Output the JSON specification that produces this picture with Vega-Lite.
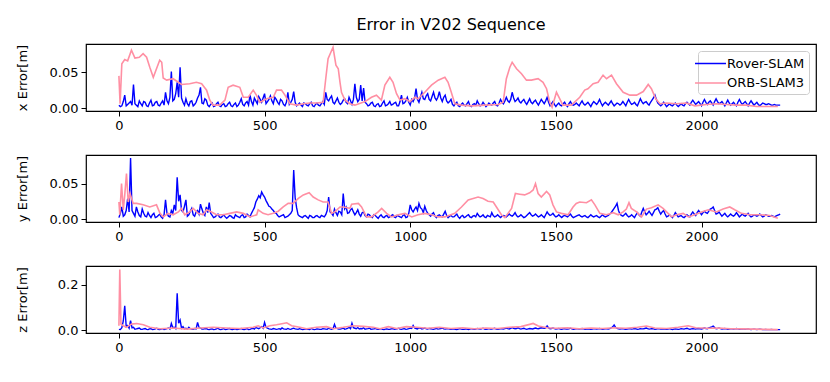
{
"$schema": "https://vega.github.io/schema/vega-lite/v6.json",
"padding": {"left": 15, "top": 17, "right": 10, "bottom": 10},
"title": {"text": "Error in V202 Sequence", "fontSize": 16, "font": "DejaVu Sans", "fontWeight": "normal", "color": "#000", "anchor": "middle", "frame": "group", "offset": 10},
"config": {
  "font": "DejaVu Sans",
  "view": {"stroke": "#000", "strokeWidth": 1.2},
  "axis": {"grid": false, "domain": false, "tickColor": "#000", "tickSize": 5, "tickWidth": 1, "labelFontSize": 13, "labelColor": "#000", "labelFont": "DejaVu Sans", "titleFontSize": 13, "titleFontWeight": "normal", "titleColor": "#000", "titleFont": "DejaVu Sans", "labelPadding": 3},
  "axisY": {"titleX": -57}
},
"bounds": "flush",
"spacing": 44,
"resolve": {"scale": {"color": "independent"}, "legend": {"color": "independent"}},
"datasets": {
"r": [
{"t":0,"x":0.004,"y":0.002,"z":0.003},{"t":10,"x":0.003,"y":0.017,"z":0.010},{"t":20,"x":0.018,"y":0.006,"z":0.107},{"t":30,"x":0.005,"y":0.029,"z":0.020},{"t":40,"x":0.009,"y":0.086,"z":0.041},{"t":50,"x":0.033,"y":0.008,"z":0.012},{"t":60,"x":0.004,"y":0.017,"z":0.005},{"t":70,"x":0.010,"y":0.005,"z":0.009},{"t":80,"x":0.003,"y":0.014,"z":0.003},{"t":90,"x":0.008,"y":0.004,"z":0.007},
{"t":100,"x":0.002,"y":0.009,"z":0.002},{"t":110,"x":0.011,"y":0.002,"z":0.006},{"t":120,"x":0.004,"y":0.008,"z":0.003},{"t":130,"x":0.009,"y":0.003,"z":0.008},{"t":140,"x":0.003,"y":0.007,"z":0.002},{"t":150,"x":0.010,"y":0.001,"z":0.006},{"t":160,"x":0.022,"y":0.027,"z":0.004},{"t":170,"x":0.006,"y":0.004,"z":0.009},{"t":180,"x":0.051,"y":0.012,"z":0.029},{"t":190,"x":0.012,"y":0.020,"z":0.012},
{"t":200,"x":0.036,"y":0.059,"z":0.162},{"t":210,"x":0.057,"y":0.034,"z":0.044},{"t":220,"x":0.008,"y":0.010,"z":0.015},{"t":230,"x":0.013,"y":0.027,"z":0.008},{"t":240,"x":0.003,"y":0.006,"z":0.012},{"t":250,"x":0.010,"y":0.015,"z":0.004},{"t":260,"x":0.005,"y":0.004,"z":0.007},{"t":270,"x":0.014,"y":0.012,"z":0.034},{"t":280,"x":0.029,"y":0.021,"z":0.009},{"t":290,"x":0.006,"y":0.008,"z":0.004},
{"t":300,"x":0.011,"y":0.017,"z":0.007},{"t":310,"x":0.002,"y":0.023,"z":0.002},{"t":320,"x":0.007,"y":0.005,"z":0.005},{"t":330,"x":0.003,"y":0.003,"z":0.003},{"t":340,"x":0.008,"y":0.007,"z":0.008},{"t":350,"x":0.002,"y":0.002,"z":0.002},{"t":360,"x":0.006,"y":0.006,"z":0.006},{"t":370,"x":0.003,"y":0.001,"z":0.003},{"t":380,"x":0.008,"y":0.005,"z":0.007},{"t":390,"x":0.002,"y":0.002,"z":0.002},
{"t":400,"x":0.007,"y":0.006,"z":0.005},{"t":410,"x":0.004,"y":0.003,"z":0.003},{"t":420,"x":0.013,"y":0.005,"z":0.007},{"t":430,"x":0.003,"y":0.002,"z":0.002},{"t":440,"x":0.009,"y":0.007,"z":0.006},{"t":450,"x":0.018,"y":0.003,"z":0.003},{"t":460,"x":0.004,"y":0.012,"z":0.008},{"t":470,"x":0.010,"y":0.024,"z":0.012},{"t":480,"x":0.016,"y":0.033,"z":0.006},{"t":490,"x":0.008,"y":0.038,"z":0.015},
{"t":500,"x":0.020,"y":0.031,"z":0.034},{"t":510,"x":0.009,"y":0.022,"z":0.008},{"t":520,"x":0.017,"y":0.017,"z":0.004},{"t":530,"x":0.006,"y":0.012,"z":0.007},{"t":540,"x":0.012,"y":0.008,"z":0.003},{"t":550,"x":0.005,"y":0.003,"z":0.006},{"t":560,"x":0.010,"y":0.005,"z":0.009},{"t":570,"x":0.003,"y":0.002,"z":0.004},{"t":580,"x":0.022,"y":0.004,"z":0.007},{"t":590,"x":0.008,"y":0.008,"z":0.003},
{"t":600,"x":0.023,"y":0.069,"z":0.008},{"t":610,"x":0.003,"y":0.016,"z":0.004},{"t":620,"x":0.007,"y":0.004,"z":0.006},{"t":630,"x":0.002,"y":0.002,"z":0.002},{"t":640,"x":0.006,"y":0.005,"z":0.005},{"t":650,"x":0.003,"y":0.001,"z":0.003},{"t":660,"x":0.008,"y":0.004,"z":0.007},{"t":670,"x":0.002,"y":0.002,"z":0.002},{"t":680,"x":0.007,"y":0.005,"z":0.005},{"t":690,"x":0.003,"y":0.002,"z":0.003},
{"t":700,"x":0.009,"y":0.004,"z":0.006},{"t":710,"x":0.022,"y":0.006,"z":0.004},{"t":720,"x":0.010,"y":0.031,"z":0.008},{"t":730,"x":0.017,"y":0.008,"z":0.003},{"t":740,"x":0.006,"y":0.014,"z":0.025},{"t":750,"x":0.014,"y":0.005,"z":0.006},{"t":760,"x":0.005,"y":0.010,"z":0.004},{"t":770,"x":0.011,"y":0.036,"z":0.009},{"t":780,"x":0.008,"y":0.017,"z":0.005},{"t":790,"x":0.015,"y":0.009,"z":0.012},
{"t":800,"x":0.005,"y":0.015,"z":0.030},{"t":810,"x":0.034,"y":0.006,"z":0.008},{"t":820,"x":0.009,"y":0.013,"z":0.011},{"t":830,"x":0.032,"y":0.004,"z":0.007},{"t":840,"x":0.028,"y":0.010,"z":0.010},{"t":850,"x":0.006,"y":0.003,"z":0.005},{"t":860,"x":0.004,"y":0.006,"z":0.009},{"t":870,"x":0.008,"y":0.002,"z":0.004},{"t":880,"x":0.002,"y":0.005,"z":0.007},{"t":890,"x":0.006,"y":0.001,"z":0.003},
{"t":900,"x":0.003,"y":0.006,"z":0.006},{"t":910,"x":0.010,"y":0.002,"z":0.002},{"t":920,"x":0.004,"y":0.005,"z":0.005},{"t":930,"x":0.009,"y":0.003,"z":0.003},{"t":940,"x":0.005,"y":0.006,"z":0.007},{"t":950,"x":0.008,"y":0.002,"z":0.004},{"t":960,"x":0.003,"y":0.004,"z":0.008},{"t":970,"x":0.018,"y":0.002,"z":0.003},{"t":980,"x":0.007,"y":0.006,"z":0.006},{"t":990,"x":0.015,"y":0.003,"z":0.004},
{"t":1000,"x":0.004,"y":0.020,"z":0.009},{"t":1010,"x":0.009,"y":0.010,"z":0.020},{"t":1020,"x":0.027,"y":0.017,"z":0.007},{"t":1030,"x":0.008,"y":0.022,"z":0.010},{"t":1040,"x":0.022,"y":0.014,"z":0.005},{"t":1050,"x":0.012,"y":0.018,"z":0.009},{"t":1060,"x":0.020,"y":0.008,"z":0.004},{"t":1070,"x":0.010,"y":0.004,"z":0.006},{"t":1080,"x":0.022,"y":0.009,"z":0.003},{"t":1090,"x":0.011,"y":0.002,"z":0.007},
{"t":1100,"x":0.023,"y":0.006,"z":0.005},{"t":1110,"x":0.009,"y":0.003,"z":0.009},{"t":1120,"x":0.018,"y":0.011,"z":0.004},{"t":1130,"x":0.007,"y":0.002,"z":0.006},{"t":1140,"x":0.012,"y":0.005,"z":0.003},{"t":1150,"x":0.003,"y":0.003,"z":0.005},{"t":1160,"x":0.008,"y":0.007,"z":0.002},{"t":1170,"x":0.002,"y":0.001,"z":0.006},{"t":1180,"x":0.007,"y":0.005,"z":0.003},{"t":1190,"x":0.003,"y":0.003,"z":0.005},
{"t":1200,"x":0.009,"y":0.006,"z":0.002},{"t":1210,"x":0.002,"y":0.002,"z":0.006},{"t":1220,"x":0.006,"y":0.005,"z":0.003},{"t":1230,"x":0.010,"y":0.008,"z":0.007},{"t":1240,"x":0.003,"y":0.003,"z":0.004},{"t":1250,"x":0.008,"y":0.006,"z":0.008},{"t":1260,"x":0.002,"y":0.002,"z":0.003},{"t":1270,"x":0.007,"y":0.004,"z":0.006},{"t":1280,"x":0.004,"y":0.009,"z":0.004},{"t":1290,"x":0.009,"y":0.003,"z":0.008},
{"t":1300,"x":0.003,"y":0.006,"z":0.003},{"t":1310,"x":0.012,"y":0.002,"z":0.006},{"t":1320,"x":0.006,"y":0.005,"z":0.004},{"t":1330,"x":0.015,"y":0.003,"z":0.009},{"t":1340,"x":0.008,"y":0.007,"z":0.005},{"t":1350,"x":0.022,"y":0.004,"z":0.011},{"t":1360,"x":0.009,"y":0.009,"z":0.006},{"t":1370,"x":0.014,"y":0.003,"z":0.010},{"t":1380,"x":0.007,"y":0.006,"z":0.004},{"t":1390,"x":0.012,"y":0.002,"z":0.008},
{"t":1400,"x":0.005,"y":0.005,"z":0.003},{"t":1410,"x":0.013,"y":0.009,"z":0.007},{"t":1420,"x":0.006,"y":0.004,"z":0.005},{"t":1430,"x":0.011,"y":0.007,"z":0.009},{"t":1440,"x":0.004,"y":0.003,"z":0.006},{"t":1450,"x":0.012,"y":0.006,"z":0.010},{"t":1460,"x":0.006,"y":0.002,"z":0.008},{"t":1470,"x":0.015,"y":0.010,"z":0.018},{"t":1480,"x":0.003,"y":0.005,"z":0.006},{"t":1490,"x":0.009,"y":0.008,"z":0.009},
{"t":1500,"x":0.002,"y":0.003,"z":0.004},{"t":1510,"x":0.007,"y":0.006,"z":0.007},{"t":1520,"x":0.003,"y":0.002,"z":0.003},{"t":1530,"x":0.008,"y":0.005,"z":0.006},{"t":1540,"x":0.002,"y":0.003,"z":0.004},{"t":1550,"x":0.009,"y":0.007,"z":0.008},{"t":1560,"x":0.004,"y":0.002,"z":0.003},{"t":1570,"x":0.007,"y":0.004,"z":0.006},{"t":1580,"x":0.003,"y":0.006,"z":0.004},{"t":1590,"x":0.010,"y":0.003,"z":0.007},
{"t":1600,"x":0.004,"y":0.005,"z":0.003},{"t":1610,"x":0.008,"y":0.002,"z":0.005},{"t":1620,"x":0.002,"y":0.006,"z":0.003},{"t":1630,"x":0.009,"y":0.003,"z":0.006},{"t":1640,"x":0.005,"y":0.005,"z":0.004},{"t":1650,"x":0.012,"y":0.002,"z":0.007},{"t":1660,"x":0.003,"y":0.006,"z":0.003},{"t":1670,"x":0.008,"y":0.003,"z":0.006},{"t":1680,"x":0.004,"y":0.005,"z":0.004},{"t":1690,"x":0.010,"y":0.009,"z":0.009},
{"t":1700,"x":0.003,"y":0.015,"z":0.022},{"t":1710,"x":0.007,"y":0.022,"z":0.007},{"t":1720,"x":0.004,"y":0.007,"z":0.004},{"t":1730,"x":0.009,"y":0.004,"z":0.006},{"t":1740,"x":0.003,"y":0.008,"z":0.003},{"t":1750,"x":0.012,"y":0.003,"z":0.005},{"t":1760,"x":0.005,"y":0.006,"z":0.004},{"t":1770,"x":0.008,"y":0.002,"z":0.007},{"t":1780,"x":0.003,"y":0.009,"z":0.003},{"t":1790,"x":0.013,"y":0.004,"z":0.006},
{"t":1800,"x":0.006,"y":0.015,"z":0.005},{"t":1810,"x":0.009,"y":0.006,"z":0.009},{"t":1820,"x":0.004,"y":0.011,"z":0.004},{"t":1830,"x":0.011,"y":0.005,"z":0.007},{"t":1840,"x":0.018,"y":0.013,"z":0.003},{"t":1850,"x":0.007,"y":0.016,"z":0.006},{"t":1860,"x":0.003,"y":0.007,"z":0.004},{"t":1870,"x":0.008,"y":0.012,"z":0.005},{"t":1880,"x":0.002,"y":0.003,"z":0.003},{"t":1890,"x":0.006,"y":0.006,"z":0.006},
{"t":1900,"x":0.003,"y":0.002,"z":0.002},{"t":1910,"x":0.007,"y":0.009,"z":0.005},{"t":1920,"x":0.002,"y":0.003,"z":0.003},{"t":1930,"x":0.006,"y":0.005,"z":0.006},{"t":1940,"x":0.003,"y":0.002,"z":0.004},{"t":1950,"x":0.008,"y":0.006,"z":0.008},{"t":1960,"x":0.004,"y":0.003,"z":0.003},{"t":1970,"x":0.011,"y":0.010,"z":0.006},{"t":1980,"x":0.005,"y":0.005,"z":0.004},{"t":1990,"x":0.009,"y":0.012,"z":0.007},
{"t":2000,"x":0.003,"y":0.006,"z":0.005},{"t":2010,"x":0.012,"y":0.011,"z":0.009},{"t":2020,"x":0.005,"y":0.008,"z":0.006},{"t":2030,"x":0.010,"y":0.014,"z":0.012},{"t":2040,"x":0.004,"y":0.017,"z":0.017},{"t":2050,"x":0.013,"y":0.007,"z":0.006},{"t":2060,"x":0.006,"y":0.010,"z":0.009},{"t":2070,"x":0.009,"y":0.004,"z":0.004},{"t":2080,"x":0.003,"y":0.008,"z":0.007},{"t":2090,"x":0.011,"y":0.003,"z":0.003},
{"t":2100,"x":0.004,"y":0.007,"z":0.006},{"t":2110,"x":0.008,"y":0.004,"z":0.004},{"t":2120,"x":0.003,"y":0.009,"z":0.007},{"t":2130,"x":0.012,"y":0.003,"z":0.003},{"t":2140,"x":0.005,"y":0.007,"z":0.005},{"t":2150,"x":0.009,"y":0.004,"z":0.003},{"t":2160,"x":0.003,"y":0.008,"z":0.005},{"t":2170,"x":0.010,"y":0.003,"z":0.002},{"t":2180,"x":0.004,"y":0.006,"z":0.004},{"t":2190,"x":0.008,"y":0.004,"z":0.002},
{"t":2200,"x":0.003,"y":0.007,"z":0.004},{"t":2210,"x":0.007,"y":0.003,"z":0.002},{"t":2220,"x":0.005,"y":0.006,"z":0.003},{"t":2230,"x":0.006,"y":0.004,"z":0.002},{"t":2240,"x":0.004,"y":0.005,"z":0.003},{"t":2250,"x":0.005,"y":0.003,"z":0.002},{"t":2260,"x":0.004,"y":0.005,"z":0.002},{"t":2270,"x":0.004,"y":0.007,"z":0.002},
{"t":5,"x":0.002,"y":0.008,"z":0.002},{"t":15,"x":0.009,"y":0.004,"z":0.040},{"t":25,"x":0.003,"y":0.012,"z":0.015},{"t":35,"x":0.007,"y":0.010,"z":0.008},{"t":45,"x":0.004,"y":0.012,"z":0.010},{"t":55,"x":0.006,"y":0.004,"z":0.004},{"t":65,"x":0.002,"y":0.010,"z":0.007},{"t":75,"x":0.006,"y":0.003,"z":0.003},{"t":85,"x":0.009,"y":0.008,"z":0.005},{"t":95,"x":0.003,"y":0.003,"z":0.003},
{"t":105,"x":0.007,"y":0.005,"z":0.005},{"t":115,"x":0.003,"y":0.006,"z":0.002},{"t":125,"x":0.008,"y":0.002,"z":0.005},{"t":135,"x":0.004,"y":0.005,"z":0.003},{"t":145,"x":0.007,"y":0.003,"z":0.004},{"t":155,"x":0.004,"y":0.006,"z":0.002},{"t":165,"x":0.010,"y":0.008,"z":0.006},{"t":175,"x":0.015,"y":0.003,"z":0.004},{"t":185,"x":0.010,"y":0.008,"z":0.010},{"t":195,"x":0.020,"y":0.012,"z":0.006},
{"t":205,"x":0.015,"y":0.025,"z":0.030},{"t":215,"x":0.014,"y":0.012,"z":0.008},{"t":225,"x":0.004,"y":0.018,"z":0.005},{"t":235,"x":0.006,"y":0.004,"z":0.004},{"t":245,"x":0.009,"y":0.011,"z":0.006},{"t":255,"x":0.003,"y":0.006,"z":0.003},{"t":265,"x":0.008,"y":0.010,"z":0.005},{"t":275,"x":0.018,"y":0.007,"z":0.012},{"t":285,"x":0.007,"y":0.014,"z":0.004},{"t":295,"x":0.013,"y":0.005,"z":0.006},
{"t":305,"x":0.004,"y":0.009,"z":0.003},{"t":315,"x":0.005,"y":0.008,"z":0.004},{"t":325,"x":0.002,"y":0.002,"z":0.002},{"t":335,"x":0.006,"y":0.005,"z":0.005},{"t":345,"x":0.003,"y":0.003,"z":0.003},{"t":355,"x":0.005,"y":0.004,"z":0.004},{"t":365,"x":0.002,"y":0.003,"z":0.002},{"t":375,"x":0.006,"y":0.003,"z":0.005},{"t":385,"x":0.003,"y":0.004,"z":0.003},{"t":395,"x":0.005,"y":0.001,"z":0.004},
{"t":405,"x":0.002,"y":0.004,"z":0.002},{"t":415,"x":0.008,"y":0.002,"z":0.005},{"t":425,"x":0.005,"y":0.006,"z":0.003},{"t":435,"x":0.007,"y":0.003,"z":0.004},{"t":445,"x":0.004,"y":0.005,"z":0.002},{"t":455,"x":0.009,"y":0.008,"z":0.006},{"t":465,"x":0.014,"y":0.016,"z":0.004},{"t":475,"x":0.006,"y":0.028,"z":0.008},{"t":485,"x":0.012,"y":0.030,"z":0.010},{"t":495,"x":0.014,"y":0.034,"z":0.008},
{"t":505,"x":0.006,"y":0.026,"z":0.012},{"t":515,"x":0.012,"y":0.018,"z":0.005},{"t":525,"x":0.010,"y":0.014,"z":0.003},{"t":535,"x":0.015,"y":0.009,"z":0.005},{"t":545,"x":0.008,"y":0.005,"z":0.004},{"t":555,"x":0.012,"y":0.004,"z":0.003},{"t":565,"x":0.005,"y":0.006,"z":0.005},{"t":575,"x":0.008,"y":0.003,"z":0.003},{"t":585,"x":0.005,"y":0.006,"z":0.004},{"t":595,"x":0.012,"y":0.012,"z":0.006},
{"t":605,"x":0.008,"y":0.030,"z":0.005},{"t":615,"x":0.005,"y":0.006,"z":0.003},{"t":625,"x":0.004,"y":0.003,"z":0.004},{"t":635,"x":0.007,"y":0.004,"z":0.003},{"t":645,"x":0.004,"y":0.003,"z":0.004},{"t":655,"x":0.006,"y":0.005,"z":0.002},{"t":665,"x":0.003,"y":0.002,"z":0.004},{"t":675,"x":0.005,"y":0.004,"z":0.003},{"t":685,"x":0.004,"y":0.003,"z":0.004},{"t":695,"x":0.006,"y":0.005,"z":0.003},
{"t":705,"x":0.005,"y":0.003,"z":0.005},{"t":715,"x":0.012,"y":0.012,"z":0.003},{"t":725,"x":0.014,"y":0.010,"z":0.005},{"t":735,"x":0.008,"y":0.005,"z":0.006},{"t":745,"x":0.010,"y":0.009,"z":0.008},{"t":755,"x":0.008,"y":0.011,"z":0.004},{"t":765,"x":0.007,"y":0.006,"z":0.006},{"t":775,"x":0.013,"y":0.014,"z":0.004},{"t":785,"x":0.006,"y":0.008,"z":0.007},{"t":795,"x":0.010,"y":0.013,"z":0.006},
{"t":805,"x":0.012,"y":0.010,"z":0.010},{"t":815,"x":0.015,"y":0.009,"z":0.006},{"t":825,"x":0.012,"y":0.007,"z":0.005},{"t":835,"x":0.010,"y":0.009,"z":0.006},{"t":845,"x":0.008,"y":0.005,"z":0.004},{"t":855,"x":0.003,"y":0.007,"z":0.006},{"t":865,"x":0.007,"y":0.003,"z":0.003},{"t":875,"x":0.003,"y":0.006,"z":0.005},{"t":885,"x":0.005,"y":0.003,"z":0.004},{"t":895,"x":0.002,"y":0.004,"z":0.004},
{"t":905,"x":0.007,"y":0.003,"z":0.003},{"t":915,"x":0.003,"y":0.004,"z":0.004},{"t":925,"x":0.006,"y":0.002,"z":0.003},{"t":935,"x":0.004,"y":0.005,"z":0.005},{"t":945,"x":0.007,"y":0.003,"z":0.003},{"t":955,"x":0.003,"y":0.005,"z":0.005},{"t":965,"x":0.009,"y":0.003,"z":0.004},{"t":975,"x":0.006,"y":0.005,"z":0.005},{"t":985,"x":0.010,"y":0.002,"z":0.003},{"t":995,"x":0.008,"y":0.008,"z":0.006},
{"t":1005,"x":0.012,"y":0.013,"z":0.007},{"t":1015,"x":0.014,"y":0.014,"z":0.009},{"t":1025,"x":0.012,"y":0.012,"z":0.005},{"t":1035,"x":0.015,"y":0.016,"z":0.008},{"t":1045,"x":0.013,"y":0.009,"z":0.006},{"t":1055,"x":0.017,"y":0.012,"z":0.005},{"t":1065,"x":0.012,"y":0.006,"z":0.007},{"t":1075,"x":0.016,"y":0.007,"z":0.004},{"t":1085,"x":0.014,"y":0.004,"z":0.005},{"t":1095,"x":0.015,"y":0.005,"z":0.004},
{"t":1105,"x":0.014,"y":0.004,"z":0.007},{"t":1115,"x":0.015,"y":0.007,"z":0.005},{"t":1125,"x":0.010,"y":0.005,"z":0.005},{"t":1135,"x":0.009,"y":0.004,"z":0.004},{"t":1145,"x":0.005,"y":0.003,"z":0.004},{"t":1155,"x":0.006,"y":0.005,"z":0.003},{"t":1165,"x":0.003,"y":0.003,"z":0.004},{"t":1175,"x":0.005,"y":0.004,"z":0.004},{"t":1185,"x":0.004,"y":0.002,"z":0.003},{"t":1195,"x":0.006,"y":0.005,"z":0.004},
{"t":1205,"x":0.003,"y":0.003,"z":0.004},{"t":1215,"x":0.005,"y":0.004,"z":0.004},{"t":1225,"x":0.004,"y":0.003,"z":0.004},{"t":1235,"x":0.006,"y":0.005,"z":0.005},{"t":1245,"x":0.004,"y":0.004,"z":0.005},{"t":1255,"x":0.005,"y":0.003,"z":0.004},{"t":1265,"x":0.004,"y":0.005,"z":0.004},{"t":1275,"x":0.005,"y":0.003,"z":0.004},{"t":1285,"x":0.007,"y":0.005,"z":0.006},{"t":1295,"x":0.004,"y":0.004,"z":0.004},
{"t":1305,"x":0.007,"y":0.004,"z":0.004},{"t":1315,"x":0.008,"y":0.004,"z":0.005},{"t":1325,"x":0.010,"y":0.004,"z":0.006},{"t":1335,"x":0.010,"y":0.005,"z":0.006},{"t":1345,"x":0.012,"y":0.005,"z":0.007},{"t":1355,"x":0.014,"y":0.006,"z":0.008},{"t":1365,"x":0.011,"y":0.005,"z":0.007},{"t":1375,"x":0.009,"y":0.004,"z":0.006},{"t":1385,"x":0.010,"y":0.004,"z":0.006},{"t":1395,"x":0.008,"y":0.003,"z":0.005},
{"t":1405,"x":0.009,"y":0.007,"z":0.005},{"t":1415,"x":0.008,"y":0.006,"z":0.006},{"t":1425,"x":0.009,"y":0.005,"z":0.007},{"t":1435,"x":0.007,"y":0.005,"z":0.007},{"t":1445,"x":0.008,"y":0.004,"z":0.008},{"t":1455,"x":0.009,"y":0.004,"z":0.009},{"t":1465,"x":0.010,"y":0.006,"z":0.010},{"t":1475,"x":0.008,"y":0.007,"z":0.009},{"t":1485,"x":0.006,"y":0.006,"z":0.007},{"t":1495,"x":0.005,"y":0.005,"z":0.006},
{"t":1505,"x":0.005,"y":0.004,"z":0.005},{"t":1515,"x":0.004,"y":0.004,"z":0.004},{"t":1525,"x":0.006,"y":0.004,"z":0.005},{"t":1535,"x":0.004,"y":0.004,"z":0.004},{"t":1545,"x":0.006,"y":0.005,"z":0.005},{"t":1555,"x":0.005,"y":0.004,"z":0.005},{"t":1565,"x":0.005,"y":0.003,"z":0.004},{"t":1575,"x":0.005,"y":0.005,"z":0.005},{"t":1585,"x":0.007,"y":0.004,"z":0.005},{"t":1595,"x":0.006,"y":0.004,"z":0.005},
{"t":1605,"x":0.006,"y":0.003,"z":0.004},{"t":1615,"x":0.005,"y":0.004,"z":0.004},{"t":1625,"x":0.006,"y":0.004,"z":0.004},{"t":1635,"x":0.007,"y":0.004,"z":0.005},{"t":1645,"x":0.008,"y":0.003,"z":0.005},{"t":1655,"x":0.007,"y":0.004,"z":0.005},{"t":1665,"x":0.006,"y":0.004,"z":0.004},{"t":1675,"x":0.006,"y":0.004,"z":0.005},{"t":1685,"x":0.007,"y":0.007,"z":0.006},{"t":1695,"x":0.006,"y":0.012,"z":0.014},
{"t":1705,"x":0.005,"y":0.018,"z":0.012},{"t":1715,"x":0.006,"y":0.012,"z":0.005},{"t":1725,"x":0.006,"y":0.005,"z":0.005},{"t":1735,"x":0.006,"y":0.006,"z":0.004},{"t":1745,"x":0.008,"y":0.005,"z":0.004},{"t":1755,"x":0.008,"y":0.004,"z":0.005},{"t":1765,"x":0.006,"y":0.004,"z":0.005},{"t":1775,"x":0.005,"y":0.006,"z":0.005},{"t":1785,"x":0.008,"y":0.006,"z":0.004},{"t":1795,"x":0.009,"y":0.010,"z":0.005},
{"t":1805,"x":0.008,"y":0.010,"z":0.007},{"t":1815,"x":0.006,"y":0.008,"z":0.006},{"t":1825,"x":0.008,"y":0.008,"z":0.005},{"t":1835,"x":0.014,"y":0.009,"z":0.005},{"t":1845,"x":0.012,"y":0.014,"z":0.004},{"t":1855,"x":0.005,"y":0.011,"z":0.005},{"t":1865,"x":0.005,"y":0.010,"z":0.004},{"t":1875,"x":0.005,"y":0.007,"z":0.004},{"t":1885,"x":0.004,"y":0.004,"z":0.004},{"t":1895,"x":0.004,"y":0.004,"z":0.004},
{"t":1905,"x":0.005,"y":0.005,"z":0.004},{"t":1915,"x":0.004,"y":0.006,"z":0.004},{"t":1925,"x":0.004,"y":0.004,"z":0.004},{"t":1935,"x":0.004,"y":0.003,"z":0.005},{"t":1945,"x":0.006,"y":0.004,"z":0.006},{"t":1955,"x":0.006,"y":0.004,"z":0.005},{"t":1965,"x":0.008,"y":0.007,"z":0.005},{"t":1975,"x":0.008,"y":0.007,"z":0.005},{"t":1985,"x":0.007,"y":0.009,"z":0.006},{"t":1995,"x":0.006,"y":0.009,"z":0.006},
{"t":2005,"x":0.008,"y":0.009,"z":0.007},{"t":2015,"x":0.008,"y":0.009,"z":0.007},{"t":2025,"x":0.008,"y":0.011,"z":0.009},{"t":2035,"x":0.007,"y":0.015,"z":0.014},{"t":2045,"x":0.009,"y":0.012,"z":0.011},{"t":2055,"x":0.009,"y":0.008,"z":0.007},{"t":2065,"x":0.007,"y":0.007,"z":0.006},{"t":2075,"x":0.006,"y":0.006,"z":0.005},{"t":2085,"x":0.007,"y":0.005,"z":0.005},{"t":2095,"x":0.007,"y":0.005,"z":0.004},
{"t":2105,"x":0.006,"y":0.005,"z":0.005},{"t":2115,"x":0.005,"y":0.006,"z":0.005},{"t":2125,"x":0.008,"y":0.006,"z":0.005},{"t":2135,"x":0.008,"y":0.005,"z":0.004},{"t":2145,"x":0.007,"y":0.005,"z":0.004},{"t":2155,"x":0.006,"y":0.006,"z":0.004},{"t":2165,"x":0.007,"y":0.005,"z":0.003},{"t":2175,"x":0.007,"y":0.004,"z":0.003},{"t":2185,"x":0.006,"y":0.005,"z":0.003},{"t":2195,"x":0.005,"y":0.005,"z":0.003},
{"t":2205,"x":0.005,"y":0.005,"z":0.003},{"t":2215,"x":0.006,"y":0.004,"z":0.002},{"t":2225,"x":0.005,"y":0.005,"z":0.002},{"t":2235,"x":0.005,"y":0.004,"z":0.002},{"t":2245,"x":0.004,"y":0.004,"z":0.002},{"t":2255,"x":0.004,"y":0.004,"z":0.002},{"t":2265,"x":0.004,"y":0.006,"z":0.002}
],
"ox": [
{"t":0,"x":0.045},{"t":4,"x":0.006},{"t":10,"x":0.062},{"t":20,"x":0.068},{"t":30,"x":0.066},{"t":43,"x":0.081},{"t":55,"x":0.070},{"t":70,"x":0.071},{"t":83,"x":0.076},{"t":95,"x":0.071},{"t":106,"x":0.057},{"t":118,"x":0.043},{"t":129,"x":0.055},{"t":140,"x":0.067},{"t":147,"x":0.064},{"t":152,"x":0.042},{"t":164,"x":0.039},{"t":186,"x":0.041},{"t":204,"x":0.036},{"t":215,"x":0.033},{"t":243,"x":0.034},{"t":266,"x":0.036},{"t":284,"x":0.034},{"t":301,"x":0.025},{"t":312,"x":0.011},{"t":323,"x":0.004},{"t":346,"x":0.004},{"t":364,"x":0.011},{"t":375,"x":0.029},{"t":392,"x":0.032},{"t":415,"x":0.029},{"t":427,"x":0.015},{"t":444,"x":0.015},{"t":461,"x":0.025},{"t":472,"x":0.018},{"t":484,"x":0.008},{"t":507,"x":0.013},{"t":530,"x":0.015},{"t":541,"x":0.025},{"t":558,"x":0.025},{"t":570,"x":0.018},{"t":587,"x":0.006},{"t":610,"x":0.004},{"t":633,"x":0.006},{"t":655,"x":0.007},{"t":678,"x":0.007},{"t":701,"x":0.008},{"t":710,"x":0.041},{"t":718,"x":0.069},{"t":735,"x":0.085},{"t":745,"x":0.060},{"t":753,"x":0.055},{"t":759,"x":0.036},{"t":764,"x":0.022},{"t":776,"x":0.011},{"t":793,"x":0.006},{"t":810,"x":0.004},{"t":845,"x":0.009},{"t":867,"x":0.015},{"t":884,"x":0.018},{"t":901,"x":0.011},{"t":913,"x":0.032},{"t":930,"x":0.043},{"t":941,"x":0.036},{"t":953,"x":0.020},{"t":965,"x":0.011},{"t":982,"x":0.013},{"t":999,"x":0.009},{"t":1016,"x":0.015},{"t":1027,"x":0.013},{"t":1050,"x":0.022},{"t":1073,"x":0.032},{"t":1096,"x":0.039},{"t":1119,"x":0.043},{"t":1130,"x":0.036},{"t":1141,"x":0.022},{"t":1153,"x":0.006},{"t":1176,"x":0.004},{"t":1210,"x":0.003},{"t":1256,"x":0.004},{"t":1302,"x":0.005},{"t":1319,"x":0.008},{"t":1330,"x":0.041},{"t":1342,"x":0.057},{"t":1350,"x":0.064},{"t":1365,"x":0.055},{"t":1382,"x":0.048},{"t":1399,"x":0.039},{"t":1416,"x":0.039},{"t":1439,"x":0.041},{"t":1456,"x":0.036},{"t":1468,"x":0.027},{"t":1479,"x":0.008},{"t":1487,"x":0.001},{"t":1502,"x":0.022},{"t":1513,"x":0.013},{"t":1524,"x":0.004},{"t":1553,"x":0.004},{"t":1582,"x":0.015},{"t":1599,"x":0.025},{"t":1610,"x":0.027},{"t":1628,"x":0.034},{"t":1645,"x":0.036},{"t":1662,"x":0.046},{"t":1674,"x":0.041},{"t":1691,"x":0.046},{"t":1708,"x":0.034},{"t":1731,"x":0.022},{"t":1754,"x":0.018},{"t":1777,"x":0.018},{"t":1800,"x":0.023},{"t":1817,"x":0.033},{"t":1828,"x":0.027},{"t":1843,"x":0.013},{"t":1857,"x":0.006},{"t":1880,"x":0.007},{"t":1914,"x":0.006},{"t":1948,"x":0.007},{"t":1977,"x":0.003},{"t":2017,"x":0.005},{"t":2051,"x":0.006},{"t":2086,"x":0.005},{"t":2120,"x":0.004},{"t":2154,"x":0.004},{"t":2189,"x":0.002},{"t":2223,"x":0.002},{"t":2262,"x":0.002}
],
"oy": [
{"t":0,"y":0.024},{"t":3,"y":0.006},{"t":9,"y":0.050},{"t":15,"y":0.013},{"t":20,"y":0.034},{"t":26,"y":0.064},{"t":32,"y":0.024},{"t":38,"y":0.036},{"t":49,"y":0.022},{"t":61,"y":0.022},{"t":83,"y":0.020},{"t":106,"y":0.017},{"t":129,"y":0.020},{"t":141,"y":0.008},{"t":152,"y":0.003},{"t":169,"y":0.008},{"t":186,"y":0.006},{"t":204,"y":0.010},{"t":215,"y":0.015},{"t":226,"y":0.006},{"t":243,"y":0.010},{"t":255,"y":0.015},{"t":272,"y":0.008},{"t":289,"y":0.006},{"t":301,"y":0.013},{"t":318,"y":0.010},{"t":335,"y":0.006},{"t":358,"y":0.006},{"t":381,"y":0.008},{"t":404,"y":0.010},{"t":427,"y":0.008},{"t":450,"y":0.003},{"t":473,"y":0.006},{"t":478,"y":0.013},{"t":495,"y":0.008},{"t":512,"y":0.006},{"t":530,"y":0.008},{"t":547,"y":0.011},{"t":564,"y":0.017},{"t":581,"y":0.022},{"t":598,"y":0.022},{"t":616,"y":0.029},{"t":633,"y":0.034},{"t":653,"y":0.037},{"t":667,"y":0.031},{"t":684,"y":0.027},{"t":701,"y":0.024},{"t":718,"y":0.024},{"t":730,"y":0.008},{"t":741,"y":0.010},{"t":759,"y":0.017},{"t":770,"y":0.017},{"t":793,"y":0.015},{"t":799,"y":0.021},{"t":822,"y":0.022},{"t":833,"y":0.017},{"t":850,"y":0.003},{"t":867,"y":0.003},{"t":890,"y":0.010},{"t":902,"y":0.015},{"t":919,"y":0.008},{"t":936,"y":0.003},{"t":959,"y":0.006},{"t":982,"y":0.008},{"t":1005,"y":0.003},{"t":1027,"y":0.006},{"t":1050,"y":0.008},{"t":1073,"y":0.006},{"t":1096,"y":0.003},{"t":1119,"y":0.003},{"t":1153,"y":0.008},{"t":1176,"y":0.017},{"t":1199,"y":0.027},{"t":1216,"y":0.029},{"t":1233,"y":0.031},{"t":1250,"y":0.029},{"t":1267,"y":0.025},{"t":1285,"y":0.024},{"t":1296,"y":0.017},{"t":1313,"y":0.006},{"t":1325,"y":0.002},{"t":1348,"y":0.015},{"t":1361,"y":0.036},{"t":1376,"y":0.035},{"t":1393,"y":0.034},{"t":1410,"y":0.037},{"t":1422,"y":0.041},{"t":1430,"y":0.050},{"t":1439,"y":0.036},{"t":1450,"y":0.031},{"t":1468,"y":0.039},{"t":1479,"y":0.034},{"t":1490,"y":0.020},{"t":1502,"y":0.010},{"t":1519,"y":0.008},{"t":1542,"y":0.006},{"t":1559,"y":0.017},{"t":1570,"y":0.022},{"t":1582,"y":0.024},{"t":1605,"y":0.023},{"t":1622,"y":0.027},{"t":1634,"y":0.020},{"t":1651,"y":0.008},{"t":1674,"y":0.006},{"t":1697,"y":0.009},{"t":1714,"y":0.006},{"t":1731,"y":0.010},{"t":1742,"y":0.014},{"t":1751,"y":0.023},{"t":1759,"y":0.015},{"t":1777,"y":0.010},{"t":1794,"y":0.003},{"t":1811,"y":0.014},{"t":1828,"y":0.016},{"t":1851,"y":0.020},{"t":1868,"y":0.015},{"t":1880,"y":0.010},{"t":1897,"y":0.003},{"t":1914,"y":0.006},{"t":1937,"y":0.008},{"t":1955,"y":0.003},{"t":1977,"y":0.006},{"t":2000,"y":0.010},{"t":2023,"y":0.013},{"t":2051,"y":0.010},{"t":2074,"y":0.014},{"t":2097,"y":0.017},{"t":2114,"y":0.013},{"t":2137,"y":0.008},{"t":2166,"y":0.006},{"t":2200,"y":0.006},{"t":2234,"y":0.005},{"t":2262,"y":0.001}
],
"oz": [
{"t":0,"z":0.019},{"t":3,"z":0.267},{"t":7,"z":0.026},{"t":15,"z":0.019},{"t":26,"z":0.012},{"t":43,"z":0.026},{"t":61,"z":0.029},{"t":84,"z":0.023},{"t":106,"z":0.012},{"t":141,"z":0.006},{"t":186,"z":0.009},{"t":232,"z":0.004},{"t":278,"z":0.009},{"t":324,"z":0.012},{"t":370,"z":0.009},{"t":415,"z":0.007},{"t":461,"z":0.012},{"t":478,"z":0.019},{"t":495,"z":0.009},{"t":518,"z":0.019},{"t":541,"z":0.023},{"t":564,"z":0.029},{"t":576,"z":0.032},{"t":593,"z":0.019},{"t":621,"z":0.012},{"t":644,"z":0.006},{"t":678,"z":0.012},{"t":713,"z":0.015},{"t":736,"z":0.006},{"t":770,"z":0.012},{"t":804,"z":0.019},{"t":839,"z":0.016},{"t":873,"z":0.012},{"t":896,"z":0.006},{"t":925,"z":0.015},{"t":953,"z":0.007},{"t":987,"z":0.015},{"t":1022,"z":0.012},{"t":1060,"z":0.008},{"t":1100,"z":0.012},{"t":1140,"z":0.007},{"t":1180,"z":0.010},{"t":1220,"z":0.006},{"t":1260,"z":0.009},{"t":1300,"z":0.007},{"t":1340,"z":0.012},{"t":1380,"z":0.015},{"t":1410,"z":0.025},{"t":1422,"z":0.029},{"t":1440,"z":0.018},{"t":1470,"z":0.010},{"t":1500,"z":0.008},{"t":1540,"z":0.010},{"t":1580,"z":0.006},{"t":1620,"z":0.009},{"t":1660,"z":0.007},{"t":1700,"z":0.010},{"t":1740,"z":0.008},{"t":1780,"z":0.012},{"t":1811,"z":0.018},{"t":1840,"z":0.009},{"t":1880,"z":0.007},{"t":1920,"z":0.012},{"t":1954,"z":0.019},{"t":1980,"z":0.010},{"t":2020,"z":0.008},{"t":2060,"z":0.009},{"t":2100,"z":0.006},{"t":2140,"z":0.005},{"t":2180,"z":0.004},{"t":2220,"z":0.003},{"t":2262,"z":0.002}
]
},
"vconcat": [
{
 "width": 730, "height": 67,
 "encoding": {
  "x": {"field": "t", "type": "quantitative", "scale": {"domain": [-113, 2393], "nice": false, "zero": false}, "axis": {"values": [0, 500, 1000, 1500, 2000], "format": "d", "title": null}},
  "y": {"field": "x", "type": "quantitative", "scale": {"domain": [-0.0042, 0.0896], "nice": false, "zero": false}, "axis": {"values": [0, 0.05], "format": ".2f", "title": "x Error[m]"}}
 },
 "layer": [
  {"data": {"name": "r"}, "mark": {"type": "line", "strokeWidth": 1.4}, "encoding": {"color": {"datum": "Rover-SLAM", "scale": {"domain": ["Rover-SLAM", "ORB-SLAM3"], "range": ["#0000ff", "#ff8fa3"]}, "legend": {"title": null, "orient": "top-right", "offset": 7, "symbolType": "M-2,0H2", "symbolSize": 240, "symbolStrokeWidth": 1.5, "symbolFillColor": "transparent", "labelFontSize": 13, "labelFont": "DejaVu Sans", "labelColor": "#000", "padding": 4, "rowPadding": 3.5, "labelOffset": 8, "strokeColor": "#cccccc", "fillColor": "rgba(255,255,255,0.8)", "cornerRadius": 3}}}},
  {"data": {"name": "ox"}, "mark": {"type": "line", "strokeWidth": 1.6}, "encoding": {"color": {"datum": "ORB-SLAM3"}}}
 ]
},
{
 "width": 730, "height": 67,
 "encoding": {
  "x": {"field": "t", "type": "quantitative", "scale": {"domain": [-113, 2393], "nice": false, "zero": false}, "axis": {"values": [0, 500, 1000, 1500, 2000], "format": "d", "title": null}},
  "y": {"field": "y", "type": "quantitative", "scale": {"domain": [-0.0042, 0.0903], "nice": false, "zero": false}, "axis": {"values": [0, 0.05], "format": ".2f", "title": "y Error[m]"}}
 },
 "layer": [
  {"data": {"name": "r"}, "mark": {"type": "line", "strokeWidth": 1.4}, "encoding": {"color": {"datum": "Rover-SLAM", "scale": {"domain": ["Rover-SLAM", "ORB-SLAM3"], "range": ["#0000ff", "#ff8fa3"]}, "legend": null}}},
  {"data": {"name": "oy"}, "mark": {"type": "line", "strokeWidth": 1.6}, "encoding": {"color": {"datum": "ORB-SLAM3"}}}
 ]
},
{
 "width": 730, "height": 67,
 "encoding": {
  "x": {"field": "t", "type": "quantitative", "scale": {"domain": [-113, 2393], "nice": false, "zero": false}, "axis": {"values": [0, 500, 1000, 1500, 2000], "format": "d", "title": null}},
  "y": {"field": "z", "type": "quantitative", "scale": {"domain": [-0.013, 0.282], "nice": false, "zero": false}, "axis": {"values": [0, 0.2], "format": ".1f", "title": "z Error[m]"}}
 },
 "layer": [
  {"data": {"name": "r"}, "mark": {"type": "line", "strokeWidth": 1.4}, "encoding": {"color": {"datum": "Rover-SLAM", "scale": {"domain": ["Rover-SLAM", "ORB-SLAM3"], "range": ["#0000ff", "#ff8fa3"]}, "legend": null}}},
  {"data": {"name": "oz"}, "mark": {"type": "line", "strokeWidth": 1.6}, "encoding": {"color": {"datum": "ORB-SLAM3"}}}
 ]
}
]
}
